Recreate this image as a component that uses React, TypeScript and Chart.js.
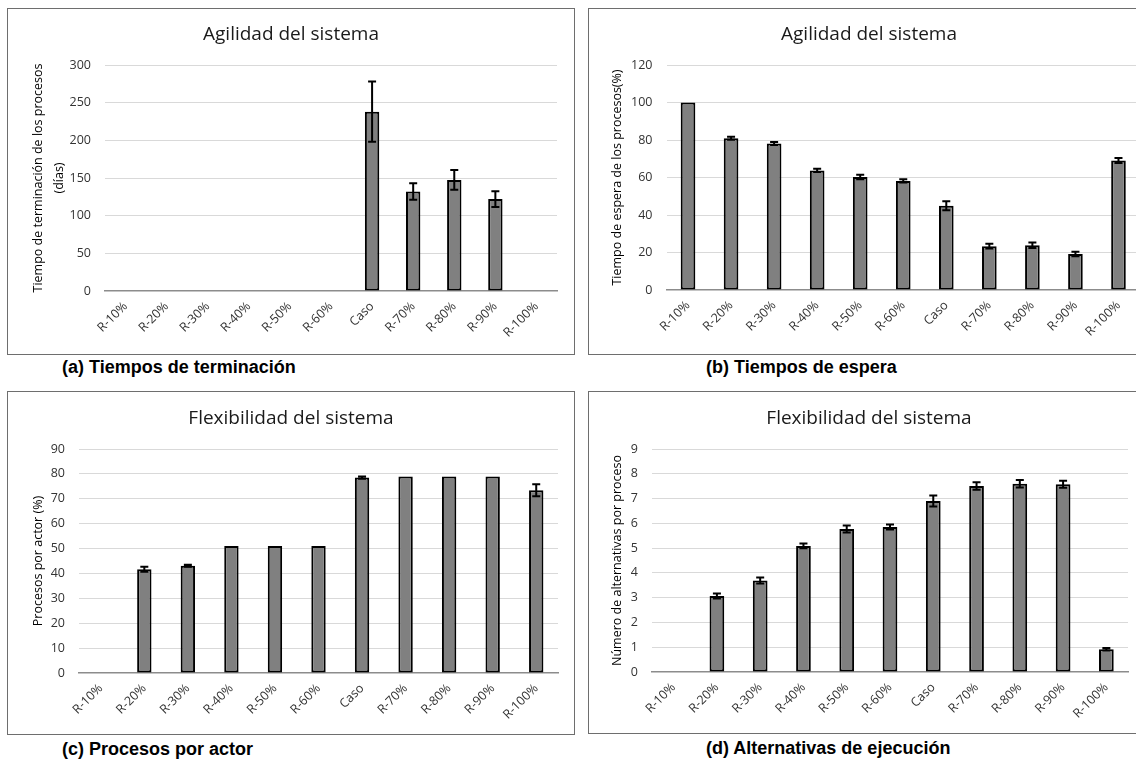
import React, { useEffect, useRef } from "react";
import { Chart, registerables } from "chart.js";

Chart.register(...registerables);

// ---- data ----
const categories = ["R-10%", "R-20%", "R-30%", "R-40%", "R-50%", "R-60%", "Caso", "R-70%", "R-80%", "R-90%", "R-100%"];

const terminacionValues = [null, null, null, null, null, null, 238, 132, 147.5, 122, null];
const terminacionErrors = [0, 0, 0, 0, 0, 0, 40, 11, 13, 10.5, 0];

const esperaValues = [100, 81, 78.2, 63.8, 60.3, 58.2, 45, 23.4, 23.9, 19.2, 69.1];
const esperaErrors = [0, 0.8, 0.8, 0.9, 1.2, 0.9, 2.4, 1.3, 1.5, 1.2, 1.3];

const actorValues = [null, 41.7, 43.1, 51, 51, 51, 78.5, 79, 79, 79, 73.4];
const actorErrors = [0, 1, 0.4, 0, 0, 0, 0.5, 0, 0, 0, 2.4];

const alternativasValues = [null, 3.07, 3.69, 5.09, 5.77, 5.85, 6.9, 7.51, 7.6, 7.58, 0.92];
const alternativasErrors = [0, 0.1, 0.12, 0.1, 0.14, 0.1, 0.22, 0.15, 0.15, 0.14, 0.05];

const yMaxes = [300, 120, 90, 9];
const ySteps = [50, 20, 10, 1];

const chartTitles = ["Agilidad del sistema", "Agilidad del sistema", "Flexibilidad del sistema", "Flexibilidad del sistema"];
const captions = ["(a) Tiempos de terminación", "(b) Tiempos de espera", "(c) Procesos por actor", "(d) Alternativas de ejecución"];
const yTitles: (string | string[])[] = [
  ["Tiempo de terminación de los procesos", "(días)"],
  "Tiempo de espera de los procesos(%)",
  "Procesos por actor (%)",
  "Número de alternativas por proceso",
];

// ---- error bars plugin ----
const errorBarsPlugin = {
  id: "errorBars",
  afterDatasetsDraw(chart: any, _args: any, opts: any) {
    const errors: number[] = (opts && opts.errors) || [];
    const meta = chart.getDatasetMeta(0);
    const ys = chart.scales.y;
    const data = chart.data.datasets[0].data;
    const ctx = chart.ctx;
    ctx.save();
    ctx.strokeStyle = "#000";
    ctx.lineWidth = 2;
    meta.data.forEach((bar: any, i: number) => {
      const v = data[i];
      const e = errors[i];
      if (v == null || !e) return;
      const x = bar.x;
      const yt = ys.getPixelForValue(v + e);
      const yb = ys.getPixelForValue(v - e);
      ctx.beginPath();
      ctx.moveTo(x, yt);
      ctx.lineTo(x, yb);
      ctx.moveTo(x - 4, yt);
      ctx.lineTo(x + 4, yt);
      ctx.moveTo(x - 4, yb);
      ctx.lineTo(x + 4, yb);
      ctx.stroke();
    });
    ctx.restore();
  },
};

type Layout = {
  frame: { left: number; top: number; width: number; height: number };
  titleY: number;
  captionLeft: number;
  captionY: number;
  padLeft: number;
  yWidth: number;
  padTop: number;
  padRight: number;
  xHeight: number;
  bar: number;
  yTitleLH: number;
};

const layouts: Layout[] = [
  { frame: { left: 7, top: 8, width: 568, height: 347 }, titleY: 33, captionLeft: 62, captionY: 367, padLeft: 20, yWidth: 77, padTop: 56, padRight: 17, xHeight: 63, bar: 0.35, yTitleLH: 1.65 },
  { frame: { left: 588, top: 8, width: 562, height: 347 }, titleY: 33, captionLeft: 706, captionY: 367, padLeft: 21, yWidth: 56.5, padTop: 56, padRight: 9, xHeight: 64, bar: 0.34, yTitleLH: 1.2 },
  { frame: { left: 7, top: 391, width: 568, height: 344 }, titleY: 417, captionLeft: 62, captionY: 749, padLeft: 23, yWidth: 48, padTop: 57, padRight: 16, xHeight: 61, bar: 0.33, yTitleLH: 1.2 },
  { frame: { left: 588, top: 391, width: 562, height: 343 }, titleY: 417, captionLeft: 706, captionY: 748, padLeft: 21, yWidth: 42, padTop: 57, padRight: 21, xHeight: 61, bar: 0.34, yTitleLH: 1.2 },
];

const panelValues = [terminacionValues, esperaValues, actorValues, alternativasValues];
const panelErrors = [terminacionErrors, esperaErrors, actorErrors, alternativasErrors];

function Panel({ idx }: { idx: number }) {
  const ref = useRef<HTMLCanvasElement | null>(null);
  const L = layouts[idx];
  const cw = L.frame.width - 2;
  const ch = L.frame.height - 2;

  useEffect(() => {
    if (!ref.current) return;
    const chart = new Chart(ref.current, {
      type: "bar",
      data: {
        labels: categories,
        datasets: [
          {
            data: panelValues[idx] as any,
            backgroundColor: "#808080",
            borderColor: "#000",
            borderWidth: 2,
            borderSkipped: false,
            barPercentage: L.bar,
            categoryPercentage: 1,
          },
        ],
      },
      options: {
        responsive: false,
        maintainAspectRatio: false,
        animation: false,
        layout: { padding: { left: L.padLeft, top: L.padTop, right: L.padRight, bottom: 0 } },
        plugins: {
          legend: { display: false },
          tooltip: { enabled: false },
          title: { display: false },
          errorBars: { errors: panelErrors[idx] },
        } as any,
        scales: {
          x: {
            grid: { display: false, drawTicks: false },
            border: { display: true, color: "#8c8c8c", width: 1.5 },
            ticks: {
              autoSkip: false,
              minRotation: 45,
              maxRotation: 45,
              color: "#333333",
              font: { family: "Open Sans", size: 12.5 },
              padding: 8,
            },
            afterFit: (s: any) => {
              s.height = L.xHeight;
            },
          },
          y: {
            min: 0,
            max: yMaxes[idx],
            ticks: {
              stepSize: ySteps[idx],
              color: "#333333",
              font: { family: "Open Sans", size: 12.5 },
              padding: 14,
            },
            grid: {
              drawTicks: false,
              lineWidth: 1,
              color: (c: any) => (c.tick && c.tick.value === 0 ? "rgba(0,0,0,0)" : "#d9d9d9"),
            },
            border: { display: false },
            title: {
              display: true,
              text: yTitles[idx],
              color: "#000",
              font: { family: "Open Sans", size: 12.5, lineHeight: L.yTitleLH },
              padding: 0,
            },
            afterFit: (s: any) => {
              s.width = L.yWidth;
            },
          },
        },
      },
      plugins: [errorBarsPlugin],
    });
    return () => chart.destroy();
  }, [idx]);

  return (
    <>
      <div
        style={{
          position: "absolute",
          left: L.frame.left,
          top: L.frame.top,
          width: L.frame.width - 2,
          height: L.frame.height - 2,
          border: "1px solid #6e6e6e",
          background: "#fff",
        }}
      >
        <canvas ref={ref} width={cw} height={ch} style={{ display: "block", width: cw, height: ch }} />
      </div>
      <div
        style={{
          position: "absolute",
          left: L.frame.left,
          width: L.frame.width,
          top: L.titleY - 13,
          height: 26,
          lineHeight: "26px",
          textAlign: "center",
          fontFamily: "Open Sans",
          fontSize: 19,
          color: "#1a1a1a",
          whiteSpace: "nowrap",
        }}
      >
        {chartTitles[idx]}
      </div>
      <div
        style={{
          position: "absolute",
          left: L.captionLeft,
          top: L.captionY - 11,
          height: 22,
          lineHeight: "22px",
          fontFamily: "Liberation Sans, Arial, sans-serif",
          fontWeight: "bold",
          fontSize: 18,
          color: "#000",
          whiteSpace: "nowrap",
        }}
      >
        {captions[idx]}
      </div>
    </>
  );
}

export default function App() {
  return (
    <div
      style={{
        position: "absolute",
        left: 0,
        top: 0,
        width: 1136,
        height: 759,
        overflow: "hidden",
        background: "#fff",
      }}
    >
      {[0, 1, 2, 3].map((i) => (
        <Panel key={i} idx={i} />
      ))}
    </div>
  );
}
